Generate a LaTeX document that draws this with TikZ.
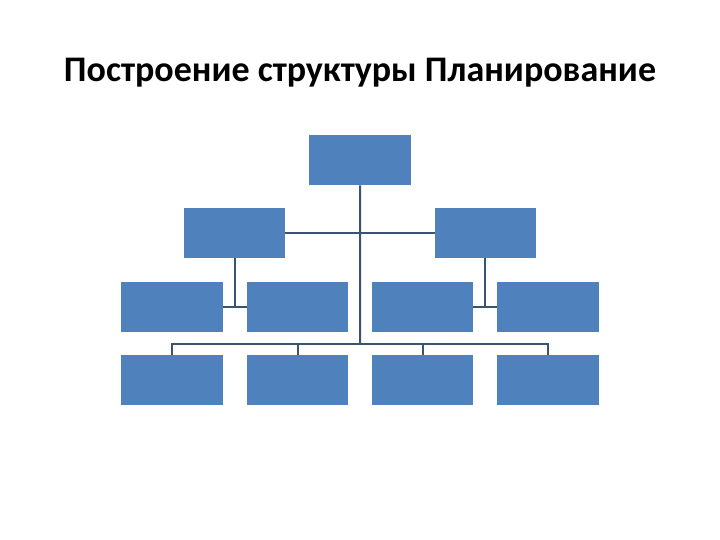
\documentclass[tikz,border=0pt]{standalone}
\usepackage{fontspec}
\setmainfont{Carlito}
\begin{document}
\begin{tikzpicture}[x=1pt,y=-1pt,
  box/.style={fill=boxblue,draw=none,minimum width=102pt,minimum height=50pt,inner sep=0pt,anchor=north west},
  conn/.style={draw=linecol,line width=2pt}]
\definecolor{boxblue}{HTML}{4F81BD}
\definecolor{linecol}{HTML}{3A5470}
\useasboundingbox (0,0) rectangle (720,540);
\node[font=\bfseries\fontsize{36}{42}\selectfont,anchor=base] (title) at (360,82) {Построение структуры Планирование};
\node[box] (top) at (309,135) {};
\node[box,minimum width=101pt] (ml) at (184,208) {};
\node[box,minimum width=101pt] (mr) at (435,208) {};
\node[box] (a1) at (121,282) {};
\node[box,minimum width=101pt] (a2) at (247,282) {};
\node[box,minimum width=101pt] (a3) at (372,282) {};
\node[box] (a4) at (497,282) {};
\node[box] (b1) at (121,355) {};
\node[box,minimum width=101pt] (b2) at (247,355) {};
\node[box,minimum width=101pt] (b3) at (372,355) {};
\node[box] (b4) at (497,355) {};
\coordinate (bus) at (360,344);
\coordinate (hub) at (360,233);
\coordinate (jl) at (235,307);
\coordinate (jr) at (485,307);
\draw[conn] (top.south) -- (bus);
\draw[conn] (ml.east) -- (mr.west);
\draw[conn] (ml.south -| jl) -- (jl);
\draw[conn] (a1.east |- jl) -- (a2.west |- jl);
\draw[conn] (mr.south -| jr) -- (jr);
\draw[conn] (a3.east |- jr) -- (a4.west |- jr);
\draw[conn] (b1.north) -- (b1.north |- bus) -- (b4.north |- bus) -- (b4.north);
\draw[conn] (b2.north) -- (b2.north |- bus);
\draw[conn] (b3.north) -- (b3.north |- bus);
\end{tikzpicture}
\end{document}
